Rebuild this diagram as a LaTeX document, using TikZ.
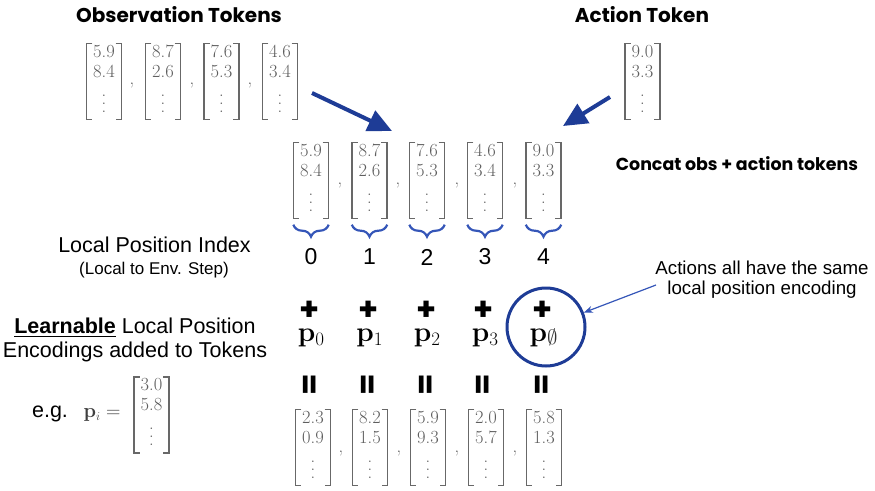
\documentclass[tikz,border=0pt]{standalone}
\usepackage{amssymb}
\usepackage{fontspec}
\setmainfont{Liberation Sans}
\newfontfamily\headfont{Poppins}
\newfontfamily\lmr{Latin Modern Roman}
\usetikzlibrary{arrows.meta,decorations.pathreplacing}
\definecolor{dblue}{HTML}{1E3C96}
\definecolor{lblue}{HTML}{3556B8}
\definecolor{vgray}{HTML}{5E5E5E}
\definecolor{bgray}{HTML}{686868}
\newcommand\myvdots{\vbox{\baselineskip=8pt\lineskiplimit=0pt\hbox{.}\hbox{.}\hbox{.}}}
\newcommand\pvec[1]{{\lmr\bfseries p}\raisebox{-0.16em}{\fontsize{19}{19}\selectfont\lmr #1}}
\newcommand\tokvec[5]{%
  \node[vecbox] (#1) at (#2,#3) {};
  \node[vtxt] (#1a) at (#2,#3-30) {#4};
  \node[vtxt] (#1b) at (#2,#3-10) {#5};
  \node[vtxt] (#1c) at (#2,#3+22) {\myvdots};
  \draw[brk] ([xshift=6pt]#1.north west) -- (#1.north west) -- (#1.south west) -- ([xshift=6pt]#1.south west);
  \draw[brk] ([xshift=-6pt]#1.north east) -- (#1.north east) -- (#1.south east) -- ([xshift=-6pt]#1.south east);
}
\begin{document}
\begin{tikzpicture}[x=1pt,y=-1pt,
  title/.style={font=\headfont\bfseries\fontsize{20}{24}\selectfont, inner sep=0},
  lbl/.style={font=\fontsize{21.5}{26}\selectfont, inner sep=0},
  small/.style={font=\fontsize{17}{20}\selectfont, inner sep=0},
  note/.style={font=\fontsize{18.7}{22}\selectfont, inner sep=0},
  vecbox/.style={minimum width=35pt, minimum height=76pt, inner sep=0},
  vtxt/.style={font=\lmr\fontsize{18.5}{22}\selectfont, text=vgray, inner sep=0},
  commatxt/.style={font=\lmr\fontsize{18.5}{22}\selectfont, text=vgray, inner sep=0},
  brk/.style={draw=bgray, line width=1.5pt},
  brc/.style={decorate, decoration={brace, mirror, amplitude=12pt}, draw=lblue, line width=2.2pt},
  bigarr/.style={draw=dblue, line width=4pt, -{Triangle[length=24pt,width=22pt]}},
  thinarr/.style={draw=lblue, line width=1.2pt, -{Stealth[length=9pt,width=7pt]}},
  idx/.style={font=\fontsize{23}{27}\selectfont, inner sep=0},
  plussign/.style={font=\headfont\bfseries\fontsize{32}{36}\selectfont, inner sep=0},
  pv/.style={font=\fontsize{28}{34}\selectfont, inner sep=0, anchor=base},
  eqs/.style={font=\headfont\bfseries\fontsize{31}{34}\selectfont, inner sep=0, rotate=90},
  ring/.style={circle, draw=dblue, line width=3pt, minimum size=78pt, inner sep=0}
]
\useasboundingbox (0,0) rectangle (875,490);

% titles
\node[title] (obsT) at (179,15) {Observation Tokens};
\node[title] (actT) at (642,15) {Action Token};

% top vectors
\tokvec{o1}{104}{81.5}{5.9}{8.4}
\tokvec{o2}{163}{81.5}{8.7}{2.6}
\tokvec{o3}{221.5}{81.5}{7.6}{5.3}
\tokvec{o4}{280}{81.5}{4.6}{3.4}
\tokvec{oa}{642.5}{81.5}{9.0}{3.3}
\node[commatxt] (oc1) at (132,86) {,};
\node[commatxt] (oc2) at (192,86) {,};
\node[commatxt] (oc3) at (250,86) {,};

% big arrows
\coordinate (la) at (312,93);
\coordinate (lb) at (392,131);
\coordinate (ra) at (610,97);
\coordinate (rb) at (563,126);
\draw[bigarr] (la) -- (lb);
\draw[bigarr] (ra) -- (rb);

% concatenated vectors
\tokvec{m0}{311}{180.5}{5.9}{8.4}
\tokvec{m1}{369.5}{180.5}{8.7}{2.6}
\tokvec{m2}{427}{180.5}{7.6}{5.3}
\tokvec{m3}{485}{180.5}{4.6}{3.4}
\tokvec{m4}{543.5}{180.5}{9.0}{3.3}
\node[commatxt] (mc1) at (340,186) {,};
\node[commatxt] (mc2) at (398,186) {,};
\node[commatxt] (mc3) at (457,186) {,};
\node[commatxt] (mc4) at (515,186) {,};
\node[title, font=\headfont\bfseries\fontsize{17.4}{20}\selectfont] (concat) at (737,164) {Concat obs + action tokens};

% braces
\foreach \m in {m0,m1,m2,m3,m4}
  \draw[brc] ([yshift=-6pt]\m.south west) -- ([yshift=-6pt]\m.south east);

% indices
\node[idx] (i0) at (311,257) {0};
\node[idx] (i1) at (369.5,257) {1};
\node[idx] (i2) at (427,257) {2};
\node[idx] (i3) at (485,257) {3};
\node[idx] (i4) at (543.5,257) {4};
\node[lbl] (lpi) at (154.5,245) {Local Position Index};
\node[small] (lpis) at (154,270) {(Local to Env. Step)};

% plus signs
\node[plussign] (pl0) at (310,311) {+};
\node[plussign] (pl1) at (369,311) {+};
\node[plussign] (pl2) at (427,311) {+};
\node[plussign] (pl3) at (484,311) {+};
\node[plussign] (pl4) at (543,311) {+};

% position encodings
\node[pv] (p0) at (311,341) {\pvec{0}};
\node[pv] (p1) at (369.5,341) {\pvec{1}};
\node[pv] (p2) at (427,341) {\pvec{2}};
\node[pv] (p3) at (485,341) {\pvec{3}};
\node[pv] (p4) at (543.5,341) {{\lmr\bfseries p}\raisebox{-0.12em}{\fontsize{20}{20}\selectfont\color{black!80}$\emptyset$}};
\node[ring] (ring) at (546,327) {};

\node[lbl] (learn1) at (135,328) {\underline{\textbf{Learnable}} Local Position};
\node[lbl] (learn2) at (135,352) {Encodings added to Tokens};

\node[note] (act1) at (762,268) {Actions all have the same};
\node[note] (act2) at (762,290) {local position encoding};
\coordinate (ta) at (656,285);
\draw[thinarr] (ta) -- (ring);

% equals
\node[eqs] (e0) at (312,385) {=};
\node[eqs] (e1) at (370,385) {=};
\node[eqs] (e2) at (428,385) {=};
\node[eqs] (e3) at (485,385) {=};
\node[eqs] (e4) at (544,385) {=};

% result vectors
\tokvec{r0}{313}{447.5}{2.3}{0.9}
\tokvec{r1}{370}{447.5}{8.2}{1.5}
\tokvec{r2}{428}{447.5}{5.9}{9.3}
\tokvec{r3}{486}{447.5}{2.0}{5.7}
\tokvec{r4}{544}{447.5}{5.8}{1.3}
\node[commatxt] (rc1) at (341,454) {,};
\node[commatxt] (rc2) at (399,454) {,};
\node[commatxt] (rc3) at (457,454) {,};
\node[commatxt] (rc4) at (515,454) {,};

% example
\node[lbl] (eg) at (50,414) {e.g.};
\node[font=\lmr\fontsize{20}{24}\selectfont, text=black!75, inner sep=0] (pieq) at (102,415) {{\bfseries p}\raisebox{-0.16em}{\fontsize{13}{13}\selectfont$i$} =};
\tokvec{ex}{151.5}{415}{3.0}{5.8}
\end{tikzpicture}
\end{document}
